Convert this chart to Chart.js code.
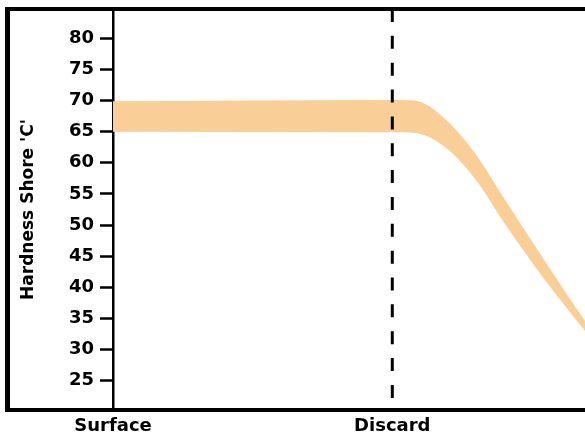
<!DOCTYPE html>
<html>
<head>
<meta charset="utf-8">
<script src="https://cdn.jsdelivr.net/npm/chart.js@4.4.1/dist/chart.umd.min.js"></script>
<style>
  html, body { margin: 0; padding: 0; background: #fff; }
  #wrap { width: 585px; height: 439px; }
</style>
</head>
<body>
<div id="wrap"><canvas id="c" width="585" height="439"></canvas></div>
<script>
// ---- data ----
const xLabels = ['Surface', 'Discard'];
const xLabelPositions = [0, 1];
const discardPosition = 1;
const yTickValues = [25, 30, 35, 40, 45, 50, 55, 60, 65, 70, 75, 80];
const yMin = 20.29;
const yMax = 84.71;
const xMin = 0;
const xMax = 1.69;

const depthPositions = [0, 1.0, 1.08, 1.19, 1.30, 1.40, 1.51, 1.62, 1.69];
const upperHardness  = [69.9, 70.1, 70.0, 67.0, 61.3, 54.3, 46.7, 39.2, 34.6];
const lowerHardness  = [65.0, 64.9, 64.8, 62.5, 57.2, 50.4, 43.4, 36.9, 33.0];

const yTitle = "Hardness Shore 'C'";
const bandColor = 'rgb(249,207,151)';
const FONT = "'DejaVu Sans', sans-serif";

const toPoints = (xs, ys) => xs.map((x, i) => ({ x: x, y: ys[i] }));

const framePlugin = {
  id: 'frame',
  afterDraw(chart) {
    const { ctx, chartArea, width } = chart;
    ctx.save();
    ctx.strokeStyle = '#000';
    ctx.lineCap = 'butt';
    ctx.lineWidth = 4;
    ctx.beginPath();
    ctx.moveTo(5, chartArea.top);
    ctx.lineTo(width, chartArea.top);
    ctx.stroke();
    ctx.beginPath();
    ctx.moveTo(5, chartArea.bottom);
    ctx.lineTo(width, chartArea.bottom);
    ctx.stroke();
    ctx.lineWidth = 5;
    ctx.beginPath();
    ctx.moveTo(7.5, chartArea.top - 2);
    ctx.lineTo(7.5, chartArea.bottom + 2);
    ctx.stroke();
    ctx.restore();
  }
};

new Chart(document.getElementById('c'), {
  type: 'line',
  data: {
    datasets: [
      {
        label: 'Discard',
        data: [{ x: discardPosition, y: yMax }, { x: discardPosition, y: yMin }],
        borderColor: '#000',
        borderWidth: 3,
        borderDash: [13, 13.85],
        pointRadius: 0,
        fill: false,
        order: 0
      },
      {
        label: 'Upper',
        data: toPoints(depthPositions, upperHardness),
        borderColor: 'rgba(0,0,0,0)',
        borderWidth: 0,
        pointRadius: 0,
        cubicInterpolationMode: 'monotone',
        fill: false,
        order: 1
      },
      {
        label: 'Lower',
        data: toPoints(depthPositions, lowerHardness),
        borderColor: 'rgba(0,0,0,0)',
        borderWidth: 0,
        backgroundColor: bandColor,
        pointRadius: 0,
        cubicInterpolationMode: 'monotone',
        fill: '-1',
        order: 2
      }
    ]
  },
  options: {
    responsive: false,
    animation: false,
    devicePixelRatio: 1,
    layout: { padding: { top: 9, left: 0, right: 0, bottom: 0 } },
    plugins: {
      legend: { display: false },
      tooltip: { enabled: false },
      filler: { propagate: false }
    },
    scales: {
      x: {
        type: 'linear',
        min: xMin,
        max: xMax,
        grid: { display: false, drawTicks: false },
        border: { display: false },
        afterBuildTicks: (s) => { s.ticks = xLabelPositions.map(v => ({ value: v })); },
        afterFit: (s) => { s.height = 29; s.paddingLeft = 0; s.paddingRight = 0; },
        ticks: {
          padding: 6,
          color: '#000',
          maxRotation: 0,
          autoSkip: false,
          font: { family: FONT, size: 18, weight: 'bold' },
          callback: (v) => { const i = xLabelPositions.indexOf(v); return i >= 0 ? xLabels[i] : ''; }
        }
      },
      y: {
        type: 'linear',
        min: yMin,
        max: yMax,
        grid: {
          display: true,
          drawOnChartArea: false,
          drawTicks: true,
          tickLength: 13,
          tickWidth: 2.5,
          color: '#000'
        },
        border: { display: true, color: '#000', width: 2.5 },
        afterBuildTicks: (s) => { s.ticks = yTickValues.map(v => ({ value: v })); },
        afterFit: (s) => { s.width = 113; s.paddingTop = 0; s.paddingBottom = 0; },
        ticks: {
          padding: 6,
          color: '#000',
          autoSkip: false,
          font: { family: FONT, size: 18, weight: 'bold' }
        },
        title: {
          display: true,
          text: yTitle,
          color: '#000',
          padding: { top: 18, bottom: 0 },
          font: { family: FONT, size: 17, weight: 'bold' }
        }
      }
    }
  },
  plugins: [framePlugin]
});
</script>
</body>
</html>
